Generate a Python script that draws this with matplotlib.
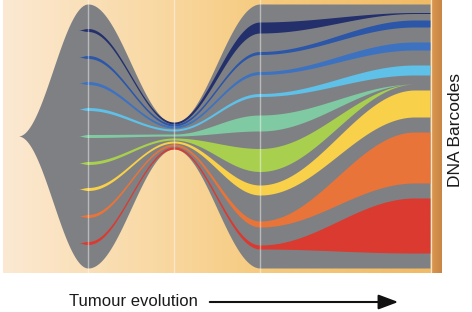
import matplotlib.pyplot as plt
import numpy as np
from matplotlib.colors import LinearSegmentedColormap

# key time points (pixel x) of the fish plot
key_x = [78, 88, 174, 260, 415, 432]

# outer envelope: half-width around the centre line
env_x = [18, 88, 174, 260, 432]
env_half = [0, 132, 13, 132, 132]
centre = 136

clone_colors = ["#23306c", "#2c56a8", "#3d72c0", "#5fc0e8", "#7fcaa2",
                "#a9cf4f", "#f8d04a", "#e8743a", "#da3a2f"]
# band centre at each key time point
clone_mid = [
    [30, 30, 123, 27.5, 13, 13],
    [57, 57, 125, 53, 23.5, 23.5],
    [83, 83, 127, 73, 46, 46],
    [109, 109, 130, 95, 70, 70],
    [136, 136, 135, 123, 84, 84],
    [163, 163, 139, 160, 84, 84],
    [189, 189, 142, 190, 103.5, 103.5],
    [216, 216, 145, 224, 157.5, 157.5],
    [243, 243, 148, 247, 225.5, 225.5],
]
# band width at each key time point
clone_width = [
    [0, 3, 2, 11, 1, 1],
    [0, 3, 2, 3, 7, 7],
    [0, 3, 2, 3, 8, 8],
    [0, 3, 2, 3, 10, 10],
    [0, 3, 2, 16, 0, 0],
    [0, 3, 2, 23, 0, 0],
    [0, 3, 2, 10, 27, 27],
    [0, 3, 2, 6, 51, 51],
    [0, 3, 2, 4, 55, 55],
]


def ease(xk, yk, x):
    # smooth (cosine) easing between key points
    y = np.full_like(x, np.nan, dtype=float)
    for i in range(len(xk) - 1):
        m = (x >= xk[i]) & (x <= xk[i + 1])
        t = (x[m] - xk[i]) / (xk[i + 1] - xk[i])
        s = 0.5 - 0.5 * np.cos(np.pi * t)
        y[m] = yk[i] + (yk[i + 1] - yk[i]) * s
    return y


fig = plt.figure(figsize=(4.72, 3.12), dpi=100)
ax = fig.add_axes([0, 0, 1, 1])
ax.set_xlim(0, 472)
ax.set_ylim(312, 0)
ax.axis("off")

# background gradient
bg = LinearSegmentedColormap.from_list(
    "bg", [(0, "#fce9d3"), (0.35, "#f9d9a4"), (0.6, "#f6cb80"), (1, "#f1ba64")])
grad = np.linspace(0, 1, 256)[None, :]
ax.imshow(grad, cmap=bg, extent=[3, 432, 273, 0], aspect="auto", zorder=0)
strip = LinearSegmentedColormap.from_list("strip", ["#d9964f", "#c98544"])
ax.imshow(grad, cmap=strip, extent=[432, 442, 273, 0], aspect="auto", zorder=0)

x = np.linspace(18, 430, 1500)
half = ease(env_x, env_half, x)
ax.fill_between(x, centre - half, centre + half, color="#7f8084", lw=0, zorder=1)

for col, mids, wids in zip(clone_colors, clone_mid, clone_width):
    xs = x[(x >= key_x[0]) & (x <= 430)]
    mid = ease(key_x, mids, xs)
    w = ease(key_x, wids, xs)
    ax.fill_between(xs, mid - w / 2, mid + w / 2, color=col, lw=0, zorder=2)

for vx in [88, 174, 260]:
    ax.plot([vx, vx], [0, 273], color="white", lw=1, alpha=0.45, zorder=3)
ax.plot([431, 431], [0, 273], color="white", lw=1, alpha=0.6, zorder=3)

ax.text(455, 130, "DNA Barcodes", rotation=90, ha="center", va="center",
        fontsize=12.5, family="Liberation Sans", color="#1a1a1a")
ax.text(69, 301, "Tumour evolution", ha="left", va="center",
        fontsize=12, family="Liberation Sans", color="#1a1a1a")
ax.annotate("", xy=(401, 302), xytext=(207, 302),
            arrowprops=dict(arrowstyle="-|>,head_length=1.2,head_width=0.45",
                            color="#111111", lw=1.5))

fig.savefig("out.png", dpi=100)
